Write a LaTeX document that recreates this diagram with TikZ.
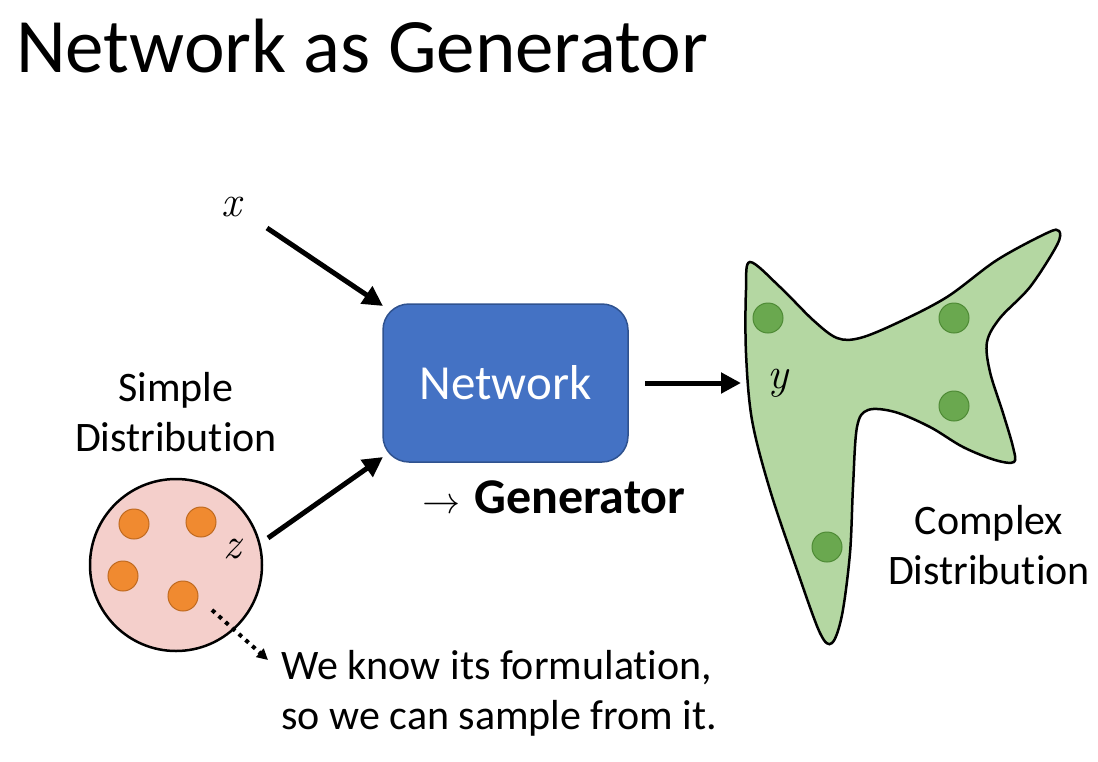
\documentclass[tikz,border=0pt]{standalone}
\usepackage{fontspec}
\setmainfont{Carlito}[Ligatures=NoCommon]
\newfontfamily\lmr{Latin Modern Roman}
\newfontfamily\lmmath{Latin Modern Math}
\usetikzlibrary{arrows.meta}
\definecolor{netblue}{HTML}{4472C4}
\definecolor{netborder}{HTML}{2F528F}
\definecolor{blobgreen}{HTML}{B4D7A2}
\definecolor{dotgreen}{HTML}{6AA84F}
\definecolor{dotgreenb}{HTML}{4E8A35}
\definecolor{circpink}{HTML}{F4CFCB}
\definecolor{dotorange}{HTML}{F08A30}
\definecolor{dotorangeb}{HTML}{C06A20}
\tikzset{
  bigarrow/.style={line width=5pt,-{Triangle[length=20pt,width=20pt]}},
  dotarrow/.style={line width=4pt,dash pattern=on 4pt off 5pt,-{Triangle[length=11pt,width=11pt]}},
  gdot/.style={circle,fill=dotgreen,draw=dotgreenb,line width=1pt,minimum size=30pt,inner sep=0pt},
  odot/.style={circle,fill=dotorange,draw=dotorangeb,line width=1pt,minimum size=30pt,inner sep=0pt},
  lbl/.style={font=\fontsize{42}{50}\selectfont,align=center},
  mlbl/.style={font=\lmr\itshape\fontsize{44}{48}\selectfont},
}
\begin{document}
\begin{tikzpicture}[x=1pt,y=-1pt]
\useasboundingbox (0,0) rectangle (1098,761);
% title
\node[anchor=west,inner sep=0pt,font=\fontsize{77}{84}\selectfont] (title) at (16,46) {Network as Generator};
% network box
\node[draw=netborder,line width=1.5pt,fill=netblue,rounded corners=26pt,minimum width=245pt,minimum height=158pt,
      text=white,font=\fontsize{49}{56}\selectfont] (net) at (505.5,383) {Network};
\node[anchor=west,inner sep=0pt,font=\fontsize{50}{56}\selectfont] (gen) at (422,497) {{\lmmath\fontsize{38}{40}\selectfont →}\hspace{14pt}\textbf{Generator}};
% x input
\node[mlbl] (x) at (231,207) {x};
\coordinate (xs) at (267,228);
\coordinate (xe) at (383,306);
\draw[bigarrow] (xs) -- (xe);
% simple distribution
\node[lbl] (simple) at (176,412) {Simple\\Distribution};
\node[circle,draw=black,line width=2.5pt,fill=circpink,minimum size=172pt,inner sep=0pt] (circ) at (176,565) {};
\node[odot] (o1) at (134,524) {};
\node[odot] (o2) at (201,522) {};
\node[odot] (o3) at (123,576) {};
\node[odot] (o4) at (183,596) {};
\node[mlbl] (z) at (232,549) {z};
\coordinate (zs) at (268,538);
\coordinate (ze) at (383,457);
\draw[bigarrow] (zs) -- (ze);
\coordinate (ds) at (212,610);
\coordinate (de) at (268,660);
\draw[dotarrow] (ds) -- (de);
\node[anchor=west,lbl,align=left] (know) at (278,693) {We know its formulation,\\so we can sample from it.};
% output arrow
\coordinate (ys) at (645,383);
\coordinate (ye) at (741,383);
\draw[bigarrow] (ys) -- (ye);
% complex distribution blob
\draw[line width=2.5pt,fill=blobgreen] plot[smooth cycle,tension=0.55] coordinates {
 (750,262) (780,287) (813,320) (837,338) (860,338) (897,323) (947,297) (997,260) (1047,233) (1059,231)
 (1057,245) (1030,287) (1000,318) (987,342) (990,372) (1003,413) (1013,447) (1014,462)
 (995,460) (963,447) (930,427) (895,412) (868,410) (857,427) (853,487) (850,553) (842,615) (832,643)
 (820,633) (797,570) (770,490) (752,420) (746,353) (746,290) };
\node[gdot] (g1) at (768,318) {};
\node[gdot] (g2) at (954,318) {};
\node[gdot] (g3) at (954,406) {};
\node[gdot] (g4) at (827,547) {};
\node[mlbl] (y) at (778,383) {y};
\node[lbl] (complex) at (989,545) {Complex\\Distribution};
\end{tikzpicture}
\end{document}
